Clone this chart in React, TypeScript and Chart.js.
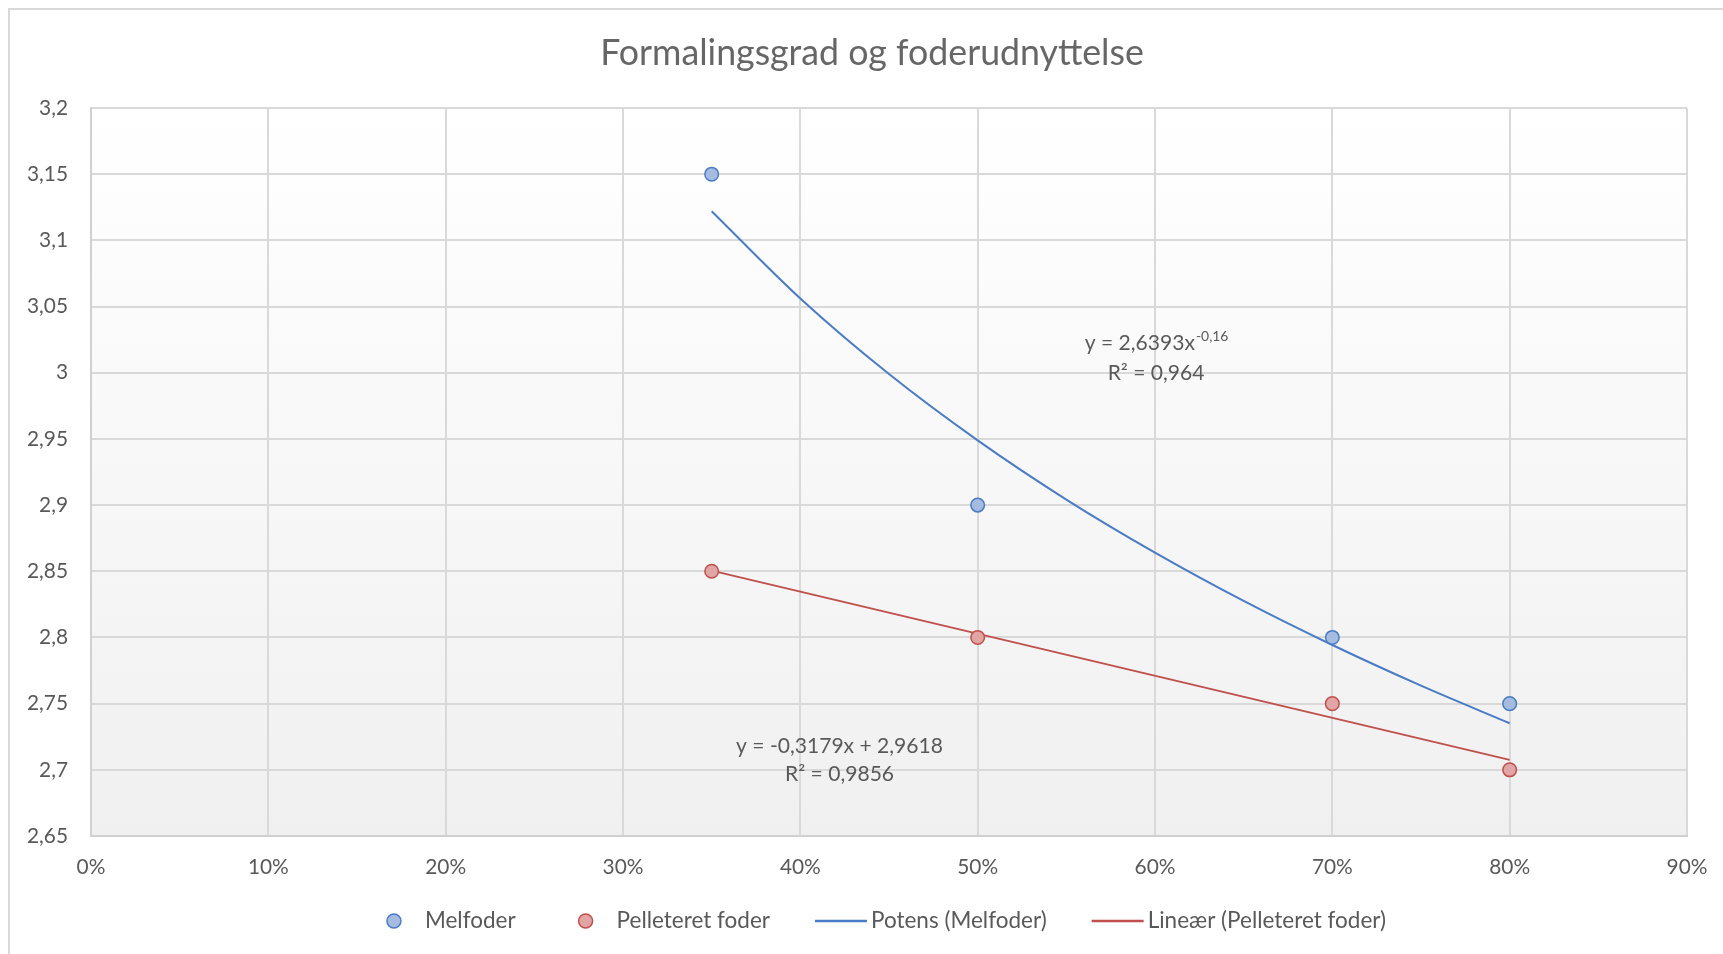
import React, { useEffect, useRef } from "react";
import { Chart, registerables } from "chart.js";

Chart.register(...registerables);

// ---------- data ----------
const chartTitle = "Formalingsgrad og foderudnyttelse";
const seriesNames = ["Melfoder", "Pelleteret foder"];
const trendNames = ["Potens (Melfoder)", "Lineær (Pelleteret foder)"];

const formalingsgrad = [0.35, 0.5, 0.7, 0.8];
const melfoderValues = [3.15, 2.9, 2.8, 2.75];
const pelleteretValues = [2.85, 2.8, 2.75, 2.7];

// trendline samples (Excel power trendline y = 2,6393x^-0,16 and linear y = -0,3179x + 2,9618)
const potensX = [0.35, 0.4, 0.45, 0.5, 0.55, 0.6, 0.65, 0.7, 0.75, 0.8];
const potensY = [3.122, 3.0561, 2.999, 2.9489, 2.9042, 2.8641, 2.8276, 2.7943, 2.7636, 2.7352];
const linearX = [0.35, 0.8];
const linearY = [2.8505, 2.7075];

const xTickValues = [0, 0.1, 0.2, 0.3, 0.4, 0.5, 0.6, 0.7, 0.8, 0.9];
const xTickLabels = ["0%", "10%", "20%", "30%", "40%", "50%", "60%", "70%", "80%", "90%"];
const yTickValues = [2.65, 2.7, 2.75, 2.8, 2.85, 2.9, 2.95, 3, 3.05, 3.1, 3.15, 3.2];
const yTickLabels = ["2,65", "2,7", "2,75", "2,8", "2,85", "2,9", "2,95", "3", "3,05", "3,1", "3,15", "3,2"];

const potensEquation = ["y = 2,6393x", "-0,16"];
const potensR2 = "R² = 0,964";
const linearEquation = "y = -0,3179x + 2,9618";
const linearR2 = "R² = 0,9856";

// ---------- style ----------
const FONT = "Lato, 'Open Sans', sans-serif";
const TEXT = "#595959";
const BLUE_FILL = "#a6bbe0";
const BLUE_LINE = "#4a7bc6";
const RED_FILL = "#e0a5a4";
const RED_LINE = "#c0504d";
const GRID = "#d9d9d9";

const W = 1723;
const H = 954;
const PLOT = { left: 91, top: 108, right: 1687, bottom: 836 };

function fitSize(text: string, target: number): number {
  const c = document.createElement("canvas").getContext("2d")!;
  c.font = `100px ${FONT}`;
  return (100 * target) / c.measureText(text).width;
}

export default function App() {
  const ref = useRef<HTMLCanvasElement | null>(null);

  useEffect(() => {
    const canvas = ref.current;
    if (!canvas) return;

    const tickSize = (fitSize("90%", 41) + fitSize("2,65", 41) + fitSize("3,15", 41)) / 3;
    const titleSize = fitSize(chartTitle, 544);
    const legendSize = fitSize(seriesNames.concat(trendNames).join(""), 658);
    const annSize = fitSize(linearEquation, 207);

    const decor = {
      id: "decor",
      beforeDraw(chart: any) {
        const ctx = chart.ctx;
        const a = chart.chartArea;
        ctx.save();
        ctx.fillStyle = "#ffffff";
        ctx.fillRect(0, 0, W, H);
        ctx.strokeStyle = GRID;
        ctx.lineWidth = 2;
        ctx.beginPath();
        ctx.moveTo(8, 9);
        ctx.lineTo(W, 9);
        ctx.moveTo(9, 8);
        ctx.lineTo(9, H);
        ctx.stroke();
        const g = ctx.createLinearGradient(0, a.top, 0, a.bottom);
        g.addColorStop(0, "#ffffff");
        g.addColorStop(1, "#f0f0f0");
        ctx.fillStyle = g;
        ctx.fillRect(a.left, a.top, a.right - a.left, a.bottom - a.top);
        ctx.restore();
      },
      afterDraw(chart: any) {
        const ctx = chart.ctx;
        const xs = chart.scales.x;
        const ys = chart.scales.y;
        ctx.save();
        // title
        ctx.fillStyle = "#666666";
        ctx.font = `${titleSize}px ${FONT}`;
        ctx.textAlign = "center";
        ctx.textBaseline = "middle";
        ctx.fillText(chartTitle, 872, 53);

        // trendline labels
        ctx.fillStyle = TEXT;
        const supSize = annSize * 0.66;
        ctx.font = `${annSize}px ${FONT}`;
        const mainW = ctx.measureText(potensEquation[0]).width;
        ctx.font = `${supSize}px ${FONT}`;
        const supW = ctx.measureText(potensEquation[1]).width;
        const pcx = xs.getPixelForValue(0.6006);
        const pcy = ys.getPixelForValue(3.0225);
        const startX = pcx - (mainW + supW) / 2;
        ctx.textAlign = "left";
        ctx.font = `${annSize}px ${FONT}`;
        ctx.fillText(potensEquation[0], startX, pcy);
        ctx.font = `${supSize}px ${FONT}`;
        ctx.fillText(potensEquation[1], startX + mainW + 1, pcy - annSize * 0.32);
        ctx.textAlign = "center";
        ctx.font = `${annSize}px ${FONT}`;
        ctx.fillText(potensR2, pcx, pcy + 30);

        const lcx = xs.getPixelForValue(0.4221);
        const lcy = ys.getPixelForValue(2.718);
        ctx.fillText(linearEquation, lcx, lcy);
        ctx.fillText(linearR2, lcx, lcy + 28.5);

        // legend
        const items = [
          { kind: "circle", fill: BLUE_FILL, stroke: BLUE_LINE, text: seriesNames[0] },
          { kind: "circle", fill: RED_FILL, stroke: RED_LINE, text: seriesNames[1] },
          { kind: "line", fill: BLUE_LINE, stroke: BLUE_LINE, text: trendNames[0] },
          { kind: "line", fill: RED_LINE, stroke: RED_LINE, text: trendNames[1] },
        ];
        ctx.font = `${legendSize}px ${FONT}`;
        const sym = 52;
        const gap = 4;
        const spacing = 45;
        const widths = items.map((it) => sym + gap + ctx.measureText(it.text).width);
        const total = widths.reduce((s, w) => s + w, 0) + spacing * (items.length - 1);
        let x = 877.5 - total / 2;
        const ly = 921;
        items.forEach((it, i) => {
          if (it.kind === "circle") {
            ctx.beginPath();
            ctx.arc(x + sym / 2 - 1, ly, 7, 0, Math.PI * 2);
            ctx.fillStyle = it.fill;
            ctx.fill();
            ctx.lineWidth = 1.5;
            ctx.strokeStyle = it.stroke;
            ctx.stroke();
          } else {
            ctx.beginPath();
            ctx.moveTo(x, ly);
            ctx.lineTo(x + sym, ly);
            ctx.lineWidth = 2.5;
            ctx.strokeStyle = it.stroke;
            ctx.stroke();
          }
          ctx.fillStyle = TEXT;
          ctx.textAlign = "left";
          ctx.textBaseline = "middle";
          ctx.fillText(it.text, x + sym + gap, ly);
          x += widths[i] + spacing;
        });
        ctx.restore();
      },
    };

    const chart = new Chart(canvas, {
      type: "scatter",
      data: {
        datasets: [
          {
            label: seriesNames[0],
            data: formalingsgrad.map((x, i) => ({ x, y: melfoderValues[i] })),
            backgroundColor: BLUE_FILL,
            borderColor: BLUE_LINE,
            borderWidth: 1.5,
            pointRadius: 6.8,
            showLine: false,
          },
          {
            label: seriesNames[1],
            data: formalingsgrad.map((x, i) => ({ x, y: pelleteretValues[i] })),
            backgroundColor: RED_FILL,
            borderColor: RED_LINE,
            borderWidth: 1.5,
            pointRadius: 6.8,
            showLine: false,
          },
          {
            label: trendNames[0],
            data: potensX.map((x, i) => ({ x, y: potensY[i] })),
            borderColor: BLUE_LINE,
            backgroundColor: BLUE_LINE,
            borderWidth: 2,
            pointRadius: 0,
            showLine: true,
            cubicInterpolationMode: "monotone",
          } as any,
          {
            label: trendNames[1],
            data: linearX.map((x, i) => ({ x, y: linearY[i] })),
            borderColor: RED_LINE,
            backgroundColor: RED_LINE,
            borderWidth: 2,
            pointRadius: 0,
            showLine: true,
          },
        ],
      },
      options: {
        responsive: false,
        animation: false,
        events: [],
        layout: {
          padding: { left: 0, top: PLOT.top, right: W - PLOT.right, bottom: H - PLOT.bottom - 60 },
        },
        plugins: {
          legend: { display: false },
          title: { display: false },
          tooltip: { enabled: false },
        },
        scales: {
          x: {
            type: "linear",
            min: 0,
            max: 0.9,
            afterBuildTicks: (s: any) => {
              s.ticks = xTickValues.map((v) => ({ value: v }));
            },
            afterFit: (s: any) => {
              s.height = 60;
              s.paddingLeft = 0;
              s.paddingRight = 0;
            },
            ticks: {
              autoSkip: false,
              maxRotation: 0,
              padding: 19,
              color: TEXT,
              font: { family: FONT, size: tickSize },
              callback: (_v: any, i: number) => xTickLabels[i],
            },
            grid: { color: GRID, lineWidth: 2, drawTicks: false },
            border: { color: "#d0d0d0", width: 2 },
          },
          y: {
            type: "linear",
            min: 2.65,
            max: 3.2,
            afterBuildTicks: (s: any) => {
              s.ticks = yTickValues.map((v) => ({ value: v }));
            },
            afterFit: (s: any) => {
              s.width = PLOT.left;
              s.paddingTop = 0;
              s.paddingBottom = 0;
            },
            ticks: {
              autoSkip: false,
              padding: 23,
              color: TEXT,
              font: { family: FONT, size: tickSize },
              callback: (_v: any, i: number) => yTickLabels[i],
            },
            grid: { color: GRID, lineWidth: 2, drawTicks: false },
            border: { color: "#d0d0d0", width: 2 },
          },
        },
      },
      plugins: [decor],
    });

    return () => chart.destroy();
  }, []);

  return (
    <div style={{ position: "absolute", left: 0, top: 0, width: W, height: H }}>
      <canvas ref={ref} width={W} height={H} style={{ display: "block", width: W, height: H }} />
    </div>
  );
}
